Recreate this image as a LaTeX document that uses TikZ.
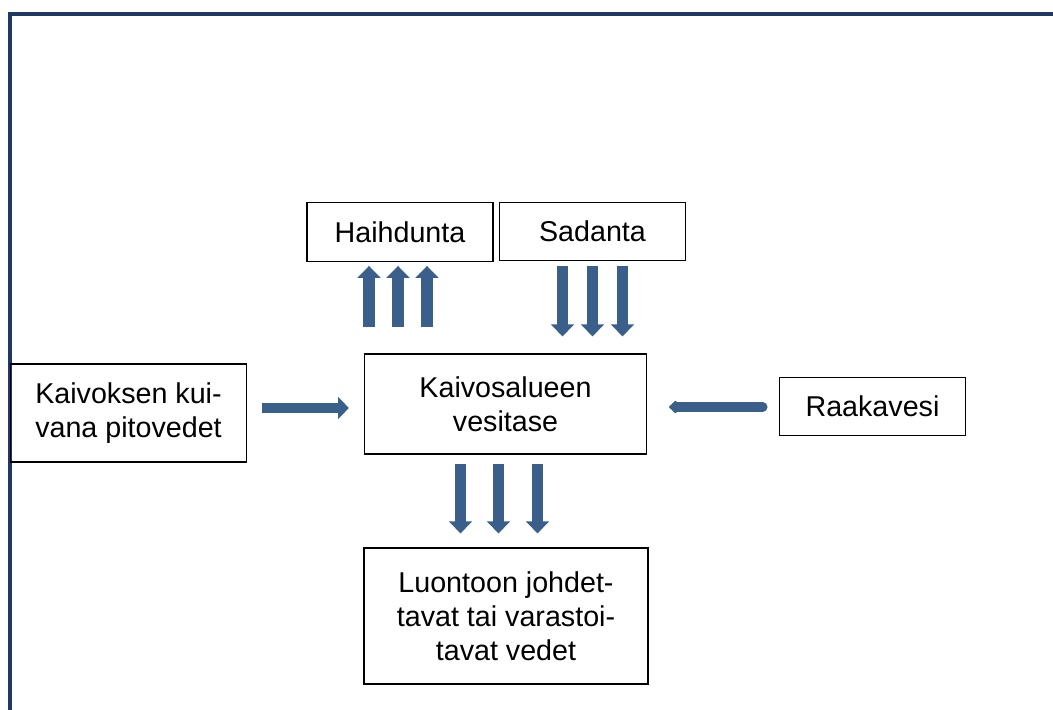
\documentclass[tikz,border=0pt]{standalone}
\usepackage{fontspec}
\setmainfont{Liberation Sans}
\usetikzlibrary{arrows.meta,calc}
\definecolor{framenavy}{HTML}{1F3864}
\definecolor{flowblue}{HTML}{3A5F8B}
\tikzset{
  termbox/.style ={draw=black,line width=0.9pt,align=center,inner sep=0pt,
                   font=\fontsize{21.5}{25.5}\selectfont},
  vflow/.style   ={flowblue,line width=8.5pt,
                   -{Triangle[width=17pt,length=9pt]}},
  hflow/.style   ={flowblue,line width=7.5pt,
                   -{Triangle[width=16pt,length=8pt]}},
  rflow/.style   ={flowblue,line width=7.5pt,line cap=round,
                   -{Triangle[round,width=11pt,length=6pt]}},
}
\begin{document}
\begin{tikzpicture}[x=0.75pt,y=-0.75pt]
\useasboundingbox (0,0) rectangle (1053,710);
\draw[framenavy,line width=2.4pt] (10,710) -- (10,14) -- (1053,14);
% boxes
\node[termbox,minimum width=139.5pt,minimum height=44pt] (hai) at (400,232) {Haihdunta};
\node[termbox,minimum width=140pt,minimum height=44pt] (sad) at (592.5,231.5) {Sadanta};
\node[termbox,minimum width=177.5pt,minimum height=73.5pt] (kai) at (128.5,413)
  {Kaivoksen kui-\\vana pitovedet};
\node[termbox,minimum width=211.5pt,minimum height=75pt] (mid) at (505.5,404)
  {Kaivosalueen\\vesitase};
\node[termbox,minimum width=140pt,minimum height=44pt] (raa) at (872.5,406.5) {Raakavesi};
\node[termbox,minimum width=213pt,minimum height=102pt] (luo) at (506,616)
  {Luontoon johdet-\\tavat tai varastoi-\\tavat vedet};
% flows
\foreach \d in {-31,-2,27}
  \draw[vflow] ($(hai.south |- mid.north)+(\d,-26)$) -- ($(hai.south)+(\d,4)$);
\foreach \d in {-30,0,30}
  \draw[vflow] ($(sad.south)+(\d,5)$) -- ($(sad.south |- mid.north)+(\d,-17)$);
\foreach \d in {-45,-7,32}
  \draw[vflow] ($(mid.south)+(\d,9)$) -- ($(mid.south |- luo.north)+(\d,-14)$);
\draw[hflow] ($(kai.east)+(15,-5)$) -- ($(mid.west |- kai.east)+(-15,-5)$);
\draw[rflow] ($(raa.west)+(-16,0.5)$) -- ($(mid.east |- raa.west)+(22,0.5)$);
\end{tikzpicture}
\end{document}
